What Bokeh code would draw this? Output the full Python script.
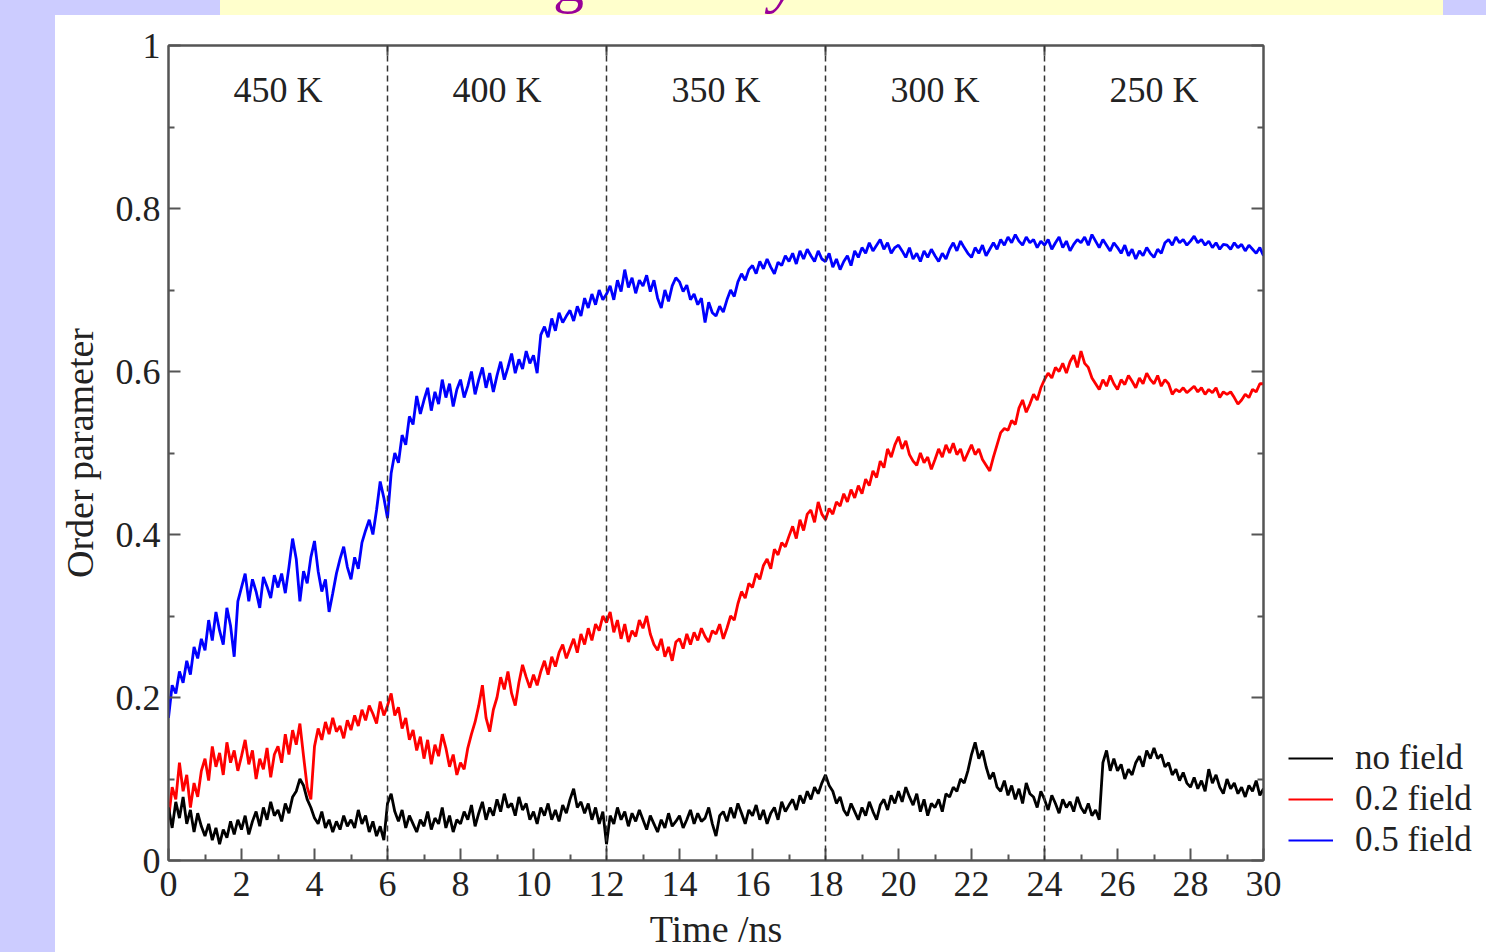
import numpy as np
from bokeh.plotting import figure
from bokeh.models import (LinearAxis, FixedTicker, Span, Legend, LegendItem, Div,
                          Range1d, CustomJSTickFormatter)
from bokeh.layouts import column, row
from bokeh.embed import file_html
from bokeh.resources import INLINE
from bokeh.core.properties import value

# Order parameter sampled every 0.1 ns, 0 .. 30 ns
field_05 = [
    0.175, 0.215, 0.205, 0.232, 0.218, 0.245, 0.228, 0.262, 0.248, 0.272,
    0.258, 0.295, 0.270, 0.305, 0.282, 0.265, 0.310, 0.288, 0.250, 0.318,
    0.335, 0.352, 0.318, 0.345, 0.330, 0.310, 0.348, 0.336, 0.322, 0.350,
    0.335, 0.352, 0.328, 0.360, 0.395, 0.370, 0.318, 0.355, 0.340, 0.372,
    0.392, 0.355, 0.330, 0.345, 0.305, 0.328, 0.352, 0.370, 0.385, 0.360,
    0.345, 0.372, 0.358, 0.390, 0.405, 0.418, 0.400, 0.430, 0.465, 0.445,
    0.420, 0.475, 0.500, 0.488, 0.522, 0.510, 0.545, 0.535, 0.570, 0.548,
    0.565, 0.580, 0.552, 0.575, 0.560, 0.590, 0.568, 0.585, 0.557, 0.578,
    0.590, 0.568, 0.582, 0.600, 0.572, 0.590, 0.605, 0.580, 0.598, 0.575,
    0.595, 0.612, 0.590, 0.605, 0.622, 0.598, 0.615, 0.603, 0.625, 0.610,
    0.620, 0.598, 0.645, 0.655, 0.642, 0.665, 0.650, 0.672, 0.660, 0.668,
    0.675, 0.662, 0.680, 0.668, 0.690, 0.678, 0.695, 0.682, 0.700, 0.688,
    0.695, 0.705, 0.688, 0.712, 0.698, 0.725, 0.703, 0.715, 0.696, 0.712,
    0.705, 0.718, 0.698, 0.712, 0.690, 0.678, 0.700, 0.686, 0.705, 0.715,
    0.710, 0.698, 0.706, 0.688, 0.695, 0.682, 0.690, 0.660, 0.685, 0.672,
    0.668, 0.680, 0.673, 0.688, 0.700, 0.692, 0.710, 0.720, 0.712, 0.725,
    0.730, 0.720, 0.735, 0.726, 0.738, 0.728, 0.720, 0.734, 0.730, 0.742,
    0.735, 0.745, 0.732, 0.748, 0.738, 0.750, 0.742, 0.735, 0.748, 0.738,
    0.735, 0.745, 0.728, 0.738, 0.725, 0.735, 0.742, 0.730, 0.748, 0.740,
    0.752, 0.745, 0.758, 0.748, 0.755, 0.762, 0.750, 0.758, 0.745, 0.752,
    0.755, 0.748, 0.740, 0.752, 0.738, 0.745, 0.735, 0.748, 0.740, 0.750,
    0.742, 0.735, 0.745, 0.738, 0.750, 0.758, 0.748, 0.760, 0.752, 0.745,
    0.740, 0.752, 0.745, 0.755, 0.742, 0.750, 0.758, 0.750, 0.762, 0.755,
    0.765, 0.758, 0.768, 0.760, 0.755, 0.765, 0.758, 0.762, 0.752, 0.760,
    0.755, 0.762, 0.750, 0.758, 0.765, 0.752, 0.760, 0.748, 0.756, 0.762,
    0.758, 0.765, 0.755, 0.768, 0.760, 0.752, 0.762, 0.755, 0.748, 0.758,
    0.752, 0.745, 0.755, 0.742, 0.750, 0.738, 0.748, 0.742, 0.752, 0.745,
    0.740, 0.750, 0.745, 0.758, 0.762, 0.755, 0.765, 0.758, 0.762, 0.755,
    0.760, 0.766, 0.758, 0.762, 0.755, 0.760, 0.752, 0.758, 0.750, 0.756,
    0.755, 0.750, 0.758, 0.752, 0.756, 0.748, 0.755, 0.750, 0.745, 0.752,
    0.742,
]

field_02 = [
    0.050, 0.090, 0.075, 0.120, 0.085, 0.105, 0.065, 0.095, 0.078, 0.110,
    0.125, 0.098, 0.140, 0.115, 0.132, 0.105, 0.145, 0.120, 0.135, 0.110,
    0.128, 0.148, 0.118, 0.135, 0.100, 0.125, 0.112, 0.138, 0.102, 0.130,
    0.140, 0.120, 0.155, 0.130, 0.160, 0.142, 0.168, 0.128, 0.090, 0.075,
    0.140, 0.162, 0.148, 0.170, 0.155, 0.175, 0.158, 0.165, 0.150, 0.172,
    0.160, 0.178, 0.165, 0.185, 0.172, 0.190, 0.180, 0.168, 0.195, 0.178,
    0.190, 0.205, 0.178, 0.188, 0.162, 0.175, 0.148, 0.160, 0.135, 0.152,
    0.125, 0.148, 0.118, 0.142, 0.128, 0.155, 0.138, 0.115, 0.130, 0.105,
    0.120, 0.112, 0.138, 0.155, 0.170, 0.190, 0.215, 0.175, 0.158, 0.185,
    0.200, 0.225, 0.210, 0.232, 0.205, 0.190, 0.218, 0.240, 0.225, 0.212,
    0.228, 0.215, 0.232, 0.245, 0.228, 0.250, 0.238, 0.255, 0.265, 0.248,
    0.260, 0.272, 0.255, 0.278, 0.265, 0.285, 0.270, 0.290, 0.282, 0.300,
    0.292, 0.305, 0.280, 0.295, 0.272, 0.290, 0.268, 0.282, 0.275, 0.295,
    0.285, 0.300, 0.278, 0.265, 0.258, 0.272, 0.250, 0.262, 0.245, 0.268,
    0.272, 0.260, 0.278, 0.265, 0.280, 0.270, 0.285, 0.275, 0.268, 0.282,
    0.278, 0.290, 0.272, 0.285, 0.300, 0.295, 0.315, 0.330, 0.322, 0.340,
    0.335, 0.352, 0.345, 0.362, 0.370, 0.358, 0.382, 0.375, 0.390, 0.385,
    0.398, 0.410, 0.395, 0.418, 0.405, 0.425, 0.430, 0.415, 0.440, 0.425,
    0.418, 0.432, 0.425, 0.440, 0.435, 0.450, 0.440, 0.455, 0.445, 0.460,
    0.450, 0.468, 0.460, 0.478, 0.470, 0.490, 0.482, 0.505, 0.495, 0.510,
    0.520, 0.505, 0.515, 0.498, 0.490, 0.485, 0.500, 0.488, 0.495, 0.480,
    0.492, 0.505, 0.495, 0.510, 0.500, 0.512, 0.498, 0.505, 0.490, 0.500,
    0.510, 0.498, 0.505, 0.492, 0.485, 0.478, 0.495, 0.510, 0.525, 0.530,
    0.528, 0.540, 0.535, 0.555, 0.565, 0.550, 0.560, 0.572, 0.565, 0.580,
    0.590, 0.598, 0.592, 0.605, 0.600, 0.610, 0.598, 0.612, 0.620, 0.605,
    0.625, 0.610, 0.605, 0.592, 0.585, 0.578, 0.590, 0.582, 0.595, 0.585,
    0.578, 0.590, 0.584, 0.595, 0.588, 0.580, 0.592, 0.585, 0.598, 0.590,
    0.585, 0.595, 0.582, 0.590, 0.585, 0.572, 0.578, 0.575, 0.580, 0.574,
    0.578, 0.582, 0.575, 0.580, 0.572, 0.578, 0.574, 0.580, 0.568, 0.575,
    0.572, 0.575, 0.568, 0.560, 0.565, 0.572, 0.568, 0.578, 0.575, 0.585,
    0.585,
]

no_field = [
    0.065, 0.040, 0.072, 0.052, 0.078, 0.045, 0.062, 0.035, 0.058, 0.042,
    0.030, 0.045, 0.025, 0.040, 0.020, 0.038, 0.028, 0.048, 0.032, 0.050,
    0.038, 0.055, 0.032, 0.048, 0.060, 0.042, 0.065, 0.050, 0.072, 0.055,
    0.062, 0.048, 0.070, 0.058, 0.078, 0.085, 0.100, 0.092, 0.075, 0.065,
    0.052, 0.045, 0.060, 0.040, 0.050, 0.035, 0.048, 0.038, 0.055, 0.042,
    0.050, 0.040, 0.062, 0.045, 0.055, 0.035, 0.048, 0.030, 0.042, 0.025,
    0.070, 0.082, 0.060, 0.048, 0.062, 0.040, 0.055, 0.045, 0.035, 0.050,
    0.042, 0.060, 0.038, 0.052, 0.045, 0.065, 0.040, 0.055, 0.035, 0.050,
    0.045, 0.060, 0.050, 0.068, 0.042, 0.058, 0.072, 0.050, 0.065, 0.055,
    0.075, 0.060, 0.082, 0.065, 0.070, 0.055, 0.078, 0.062, 0.070, 0.050,
    0.060, 0.045, 0.065, 0.055, 0.070, 0.050, 0.062, 0.048, 0.068, 0.058,
    0.075, 0.088, 0.065, 0.072, 0.058, 0.070, 0.050, 0.065, 0.045, 0.060,
    0.020, 0.055, 0.045, 0.065, 0.050, 0.060, 0.042, 0.058, 0.048, 0.062,
    0.050, 0.038, 0.055, 0.045, 0.035, 0.050, 0.040, 0.058, 0.042, 0.048,
    0.055, 0.040, 0.050, 0.062, 0.045, 0.058, 0.048, 0.052, 0.065, 0.045,
    0.030, 0.055, 0.060, 0.048, 0.065, 0.052, 0.070, 0.058, 0.045, 0.062,
    0.055, 0.068, 0.050, 0.062, 0.045, 0.058, 0.065, 0.050, 0.072, 0.060,
    0.068, 0.075, 0.062, 0.080, 0.070, 0.085, 0.075, 0.090, 0.082, 0.095,
    0.105, 0.092, 0.085, 0.070, 0.078, 0.062, 0.055, 0.070, 0.060, 0.050,
    0.065, 0.055, 0.072, 0.060, 0.050, 0.068, 0.075, 0.062, 0.080, 0.070,
    0.085, 0.072, 0.090, 0.078, 0.068, 0.082, 0.060, 0.075, 0.055, 0.070,
    0.065, 0.075, 0.060, 0.082, 0.078, 0.090, 0.085, 0.100, 0.095, 0.110,
    0.130, 0.145, 0.125, 0.135, 0.115, 0.100, 0.108, 0.090, 0.085, 0.098,
    0.080, 0.092, 0.075, 0.088, 0.070, 0.095, 0.082, 0.078, 0.065, 0.085,
    0.075, 0.062, 0.080, 0.070, 0.058, 0.075, 0.065, 0.072, 0.060, 0.078,
    0.065, 0.058, 0.070, 0.055, 0.062, 0.050, 0.120, 0.135, 0.110, 0.125,
    0.110, 0.118, 0.100, 0.112, 0.105, 0.120, 0.128, 0.115, 0.135, 0.125,
    0.138, 0.125, 0.130, 0.115, 0.120, 0.105, 0.112, 0.098, 0.108, 0.095,
    0.090, 0.102, 0.088, 0.098, 0.085, 0.112, 0.095, 0.105, 0.090, 0.082,
    0.100, 0.088, 0.095, 0.082, 0.090, 0.078, 0.092, 0.085, 0.098, 0.080,
    0.088,
]

time_ns = np.round(np.arange(len(field_05)) * 0.1, 1)

temperature_labels = ["450 K", "400 K", "350 K", "300 K", "250 K"]
temperature_centers = [3, 9, 15, 21, 27]
temperature_switches = [6, 12, 18, 24]

legend_labels = ["no field", "0.2 field", "0.5 field"]
series_colors = ["#000000", "#ff0000", "#0000ff"]
series_values = [no_field, field_02, field_05]

x_ticks = list(range(0, 31, 2))
x_minor = list(range(1, 30, 2))
y_ticks = [0, 0.2, 0.4, 0.6, 0.8, 1]
y_minor = [0.1, 0.3, 0.5, 0.7, 0.9]

SERIF = "Liberation Serif"
INK = "#222222"
FRAME = "#555555"
LAVENDER = "#ccccff"
LINE_W = 2.8

p = figure(
    frame_width=1095, frame_height=815,
    x_range=Range1d(0, 30), y_range=Range1d(0, 1),
    output_backend="svg", toolbar_location=None,
    min_border_left=110, min_border_right=20,
    min_border_top=30, min_border_bottom=92,
    background_fill_color="white", border_fill_color="white",
)
p.grid.visible = False
p.outline_line_color = FRAME
p.outline_line_width = 2

blank_labels = CustomJSTickFormatter(code="return '';")


def style_axis(ax, ticks, minor, tick_in, minor_in, labels=True):
    ax.ticker = FixedTicker(ticks=ticks, minor_ticks=minor)
    ax.axis_line_color = FRAME
    ax.axis_line_width = 2
    ax.major_tick_line_color = FRAME
    ax.minor_tick_line_color = FRAME
    ax.major_tick_line_width = 2
    ax.minor_tick_line_width = 2
    ax.major_tick_in = tick_in
    ax.major_tick_out = 0
    ax.minor_tick_in = minor_in
    ax.minor_tick_out = 0
    if labels:
        ax.major_label_text_font = SERIF
        ax.major_label_text_font_size = "36px"
        ax.major_label_text_color = INK
    else:
        ax.formatter = blank_labels
        ax.major_label_text_font_size = "2px"
        ax.major_label_standoff = 0


xax = p.xaxis[0]
style_axis(xax, x_ticks, x_minor, 12, 6)
xax.major_label_standoff = 11
xax.axis_label = "Time /ns"
xax.axis_label_text_font = SERIF
xax.axis_label_text_font_size = "38px"
xax.axis_label_text_font_style = "normal"
xax.axis_label_text_color = INK
xax.axis_label_standoff = 9

yax = p.yaxis[0]
style_axis(yax, y_ticks, y_minor, 12, 6)
yax.formatter = CustomJSTickFormatter(code="return String(Math.round(tick * 10) / 10);")
yax.major_label_standoff = 8
yax.axis_label = "Order parameter"
yax.axis_label_text_font = SERIF
yax.axis_label_text_font_size = "38px"
yax.axis_label_text_font_style = "normal"
yax.axis_label_text_color = INK
yax.axis_label_standoff = 12

right_ax = LinearAxis()
style_axis(right_ax, y_ticks, y_minor, 12, 6, labels=False)
p.add_layout(right_ax, "right")

top_ax = LinearAxis()
style_axis(top_ax, temperature_switches, [], 10, 0, labels=False)
p.add_layout(top_ax, "above")

# temperature stage boundaries
for t_switch in temperature_switches:
    p.add_layout(Span(location=t_switch, dimension="height", line_color="#333333",
                      line_width=1.5, line_dash="6 4"))

# red first, black last so the no-field trace lies on top where they cross
for idx in (1, 2, 0):
    p.line(time_ns, series_values[idx], line_color=series_colors[idx], line_width=LINE_W)

p.text(x=temperature_centers, y=[0.945] * len(temperature_centers), text=temperature_labels,
       text_align="center", text_baseline="middle", text_font=value(SERIF),
       text_font_size="36px", text_color=INK)

# narrow side panel that carries the legend; its own range keeps the key
# traces out of view so only the legend samples show
side = figure(
    width=206, height=937, x_range=Range1d(-20, -10), y_range=Range1d(0, 1),
    output_backend="svg", toolbar_location=None, min_border=0,
    x_axis_location=None, y_axis_location=None,
    background_fill_color="white", border_fill_color="white",
)
side.grid.visible = False
side.outline_line_color = None
keys = [side.line(time_ns, vals, line_color=c, line_width=2)
        for vals, c in zip(series_values, series_colors)]

legend = Legend(
    items=[LegendItem(label=lab, renderers=[r]) for lab, r in zip(legend_labels, keys)],
    location=(5, 0),
    label_text_font=SERIF, label_text_font_size="35px", label_text_color=INK,
    glyph_width=45, glyph_height=30, label_height=38, label_standoff=22,
    spacing=1, padding=0, margin=0,
    border_line_alpha=0, background_fill_alpha=0,
)
side.add_layout(legend, "center")

banner_html = (
    '<div style="position:relative;width:1223px;height:15px;overflow:hidden;">'
    '<span style="position:absolute;left:333px;top:-51px;font:62px \'Liberation Serif\';'
    'line-height:62px;color:#990099;">g</span>'
    '<span style="position:absolute;left:550px;top:-51px;font:italic 62px \'Liberation Serif\';'
    'line-height:62px;color:#990099;">y</span>'
    '</div>'
)

top_left = Div(width=220, height=15, margin=0, styles={"background-color": LAVENDER})
banner = Div(text=banner_html, width=1223, height=15, margin=0,
             styles={"background-color": "#ffffcc", "overflow": "hidden"})
top_right = Div(width=43, height=15, margin=0, styles={"background-color": LAVENDER})
left_strip = Div(width=55, height=937, margin=0, styles={"background-color": LAVENDER})

page = column(row(top_left, banner, top_right, spacing=0),
              row(left_strip, p, side, spacing=0), spacing=0)

open("out.html", "w").write(file_html(page, INLINE))
